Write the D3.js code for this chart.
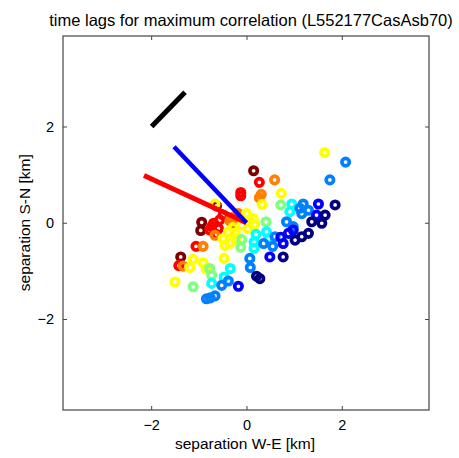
<!DOCTYPE html>
<html>
<head>
<meta charset="utf-8">
<script src="https://cdn.jsdelivr.net/npm/d3@7"></script>
<style>
  body { margin: 0; background: #fff; }
  svg text { font-family: "Liberation Sans", Arial, sans-serif; fill: #000; }
</style>
</head>
<body>
<svg id="lagChart" width="459" height="458"></svg>
<script>
// separation W-E [km], separation S-N [km], lag class (0 = dark red ... 8 = dark blue)
const sepWE = [
  0.15, -0.94, -0.96, -1.38, -0.63,
  0.27, -0.12, -0.12, -0.56, -0.69, -0.77, -0.59, -1.06, -1.42, -0.49, -0.73, -0.63,
  0.59, 0.31, 0.27, -0.91, -1.33, -0.35, -0.24, -0.17, -0.28, -0.32, -0.66,
  1.64, 0.73, 0.33, -0.66, 0.0, 0.14, 0.17, -0.10, -0.28, -0.38, -0.49, -0.35, -0.21, -0.45, -0.47, -1.12, -1.19, -0.91, -0.84, -1.50, 0.03, -0.24, 0.05,
  0.72, 0.41, -0.10, -0.12, -0.77, -0.73, -1.12,
  0.95, 0.91, 0.20, 0.16, 0.16, 0.42, 0.46, -0.34, -0.47, -0.73,
  2.08, 1.75, 1.19, 1.16, 1.30, 0.84, 0.98, 0.60, 0.36, 0.55, 0.07, 0.08, -0.52, -0.38, -0.84, -0.76, -0.66, 1.12,
  1.51, 1.47, 0.88, 0.77, 0.49, -0.17, 0.72, 0.98,
  1.86, 1.65, 1.58, 1.37, 1.30, 1.16, 1.02, 0.77, 0.21, 0.28
];
const sepSN = [
  1.08, 0.01, -0.16, -0.71, 0.35,
  0.84, 0.63, 0.56, 0.06, -0.01, -0.15, -0.12, -0.49, -0.89, 0.16, -0.08, -0.24,
  0.89, 0.59, 0.52, -0.49, -0.90, 0.04, 0.13, 0.19, -0.02, 0.10, -0.26,
  1.46, 0.61, 0.38, 0.39, 0.19, 0.09, -0.03, -0.05, -0.10, -0.19, -0.33, -0.43, -0.33, -0.47, -0.74, -0.76, -0.93, -0.83, -0.96, -1.23, -0.12, -0.22, 0.05,
  0.37, 0.02, -0.35, -0.51, -0.95, -1.09, -1.33,
  0.39, 0.23, -0.24, -0.40, -0.53, -0.19, -0.33, -0.95, -1.13, -1.26,
  1.26, 0.89, 0.39, 0.19, 0.26, 0.02, -0.08, -0.29, -0.43, -0.49, -0.74, -0.93, -1.30, -1.21, -1.58, -1.56, -1.52, 0.30,
  0.39, 0.16, -0.22, -0.43, -0.71, -1.32, -0.30, -0.15,
  0.37, 0.16, -0.01, 0.02, -0.22, -0.29, -0.36, -0.71, -1.11, -1.16
];
const lagClass = [
  0, 0, 0, 0, 0,
  1, 1, 1, 1, 1, 1, 1, 1, 1, 1, 1, 1,
  2, 2, 2, 2, 2, 2, 2, 2, 2, 2, 2,
  3, 3, 3, 3, 3, 3, 3, 3, 3, 3, 3, 3, 3, 3, 3, 3, 3, 3, 3, 3, 3, 3, 3,
  4, 4, 4, 4, 4, 4, 4,
  5, 5, 5, 5, 5, 5, 5, 5, 5, 5,
  6, 6, 6, 6, 6, 6, 6, 6, 6, 6, 6, 6, 6, 6, 6, 6, 6, 6,
  7, 7, 7, 7, 7, 7, 7, 7,
  8, 8, 8, 8, 8, 8, 8, 8, 8, 8
];

// direction vectors [x1, y1, x2, y2] in km
const redVector = [-2.15, 0.98, 0.0, 0.0];
const blueVector = [-1.52, 1.58, 0.0, 0.0];
const blackBar = [-1.99, 2.0, -1.29, 2.71];

const xTicks = [-2, 0, 2];
const yTicks = [-2, 0, 2];
const titleText = "time lags for maximum correlation (L552177CasAsb70)";
const xLabel = "separation W-E [km]";
const yLabel = "separation S-N [km]";

// jet colormap, 9 levels
const jet9 = ["#800000", "#ff0000", "#ff8000", "#ffff00", "#80ff80", "#00ffff", "#0080ff", "#0000ff", "#000080"];

const box = {left: 63, right: 429, top: 36, bottom: 410};
const svg = d3.select("#lagChart");

const x = d3.scaleLinear().domain([-3.85, 3.83]).range([box.left, box.right]);
const y = d3.scaleLinear().domain([-3.89, 3.88]).range([box.bottom, box.top]);
const color = d3.scaleOrdinal().domain(d3.range(9)).range(jet9);

// axes with inward ticks on all four sides
svg.append("g").attr("transform", "translate(0," + box.bottom + ")")
  .call(d3.axisBottom(x).tickValues(xTicks).tickSize(-4).tickPadding(10).tickFormat(d3.format("d")))
  .call(g => g.select(".domain").remove())
  .selectAll("text").style("font-size", "14.5px");
svg.append("g").attr("transform", "translate(0," + box.top + ")")
  .call(d3.axisTop(x).tickValues(xTicks).tickSize(-4).tickFormat(""))
  .call(g => g.select(".domain").remove());
svg.append("g").attr("transform", "translate(" + box.left + ",0)")
  .call(d3.axisLeft(y).tickValues(yTicks).tickSize(-4).tickPadding(9).tickFormat(d3.format("d")))
  .call(g => g.select(".domain").remove())
  .selectAll("text").style("font-size", "14.5px");
svg.append("g").attr("transform", "translate(" + box.right + ",0)")
  .call(d3.axisRight(y).tickValues(yTicks).tickSize(-4).tickFormat(""))
  .call(g => g.select(".domain").remove());
svg.selectAll(".tick line").attr("stroke", "#444");

svg.append("rect")
  .attr("x", box.left).attr("y", box.top)
  .attr("width", box.right - box.left).attr("height", box.bottom - box.top)
  .attr("fill", "none").attr("stroke", "#444").attr("stroke-width", 1.2);

// rings
svg.append("g").selectAll("circle")
  .data(sepWE.map((v, i) => ({x: v, y: sepSN[i], c: lagClass[i]})))
  .enter().append("circle")
    .attr("cx", d => x(d.x))
    .attr("cy", d => y(d.y))
    .attr("r", 3.7)
    .attr("fill", "none")
    .attr("stroke", d => color(d.c))
    .attr("stroke-width", 3.7);

// vectors
function drawVec(v, col, w) {
  svg.append("line")
    .attr("x1", x(v[0])).attr("y1", y(v[1]))
    .attr("x2", x(v[2])).attr("y2", y(v[3]))
    .attr("stroke", col).attr("stroke-width", w);
}
drawVec(redVector, "#ff0000", 5);
drawVec(blueVector, "#0000ff", 4.5);
drawVec(blackBar, "#000000", 5);

// text
svg.append("text").attr("x", 251).attr("y", 26)
  .attr("text-anchor", "middle").style("font-size", "16.5px").text(titleText);
svg.append("text").attr("x", 245).attr("y", 449)
  .attr("text-anchor", "middle").style("font-size", "15.5px").text(xLabel);
svg.append("text").attr("transform", "translate(30," + (y(0)) + ") rotate(-90)")
  .attr("text-anchor", "middle").style("font-size", "15.5px").text(yLabel);
</script>
</body>
</html>
